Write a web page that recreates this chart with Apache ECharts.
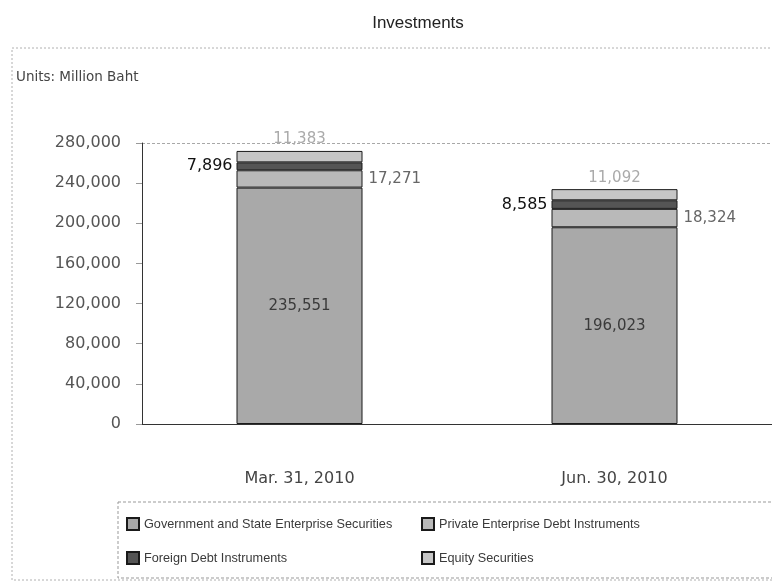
<!DOCTYPE html>
<html>
<head>
<meta charset="utf-8">
<script src="https://cdn.jsdelivr.net/npm/echarts@6/dist/echarts.min.js"></script>
<style>
  html, body { margin: 0; padding: 0; background: #fff; }
  #chart { width: 772px; height: 582px; }
</style>
</head>
<body>
<div id="chart"></div>
<script>
// Investment holdings, million Baht
const categories = ['Mar. 31, 2010', 'Jun. 30, 2010'];
const govSecurities = [235551, 196023];
const privateDebt = [17271, 18324];
const foreignDebt = [7896, 8585];
const equitySecurities = [11383, 11092];
const yTicks = [0, 40000, 80000, 120000, 160000, 200000, 240000, 280000];

const FONT = '"Liberation Sans", Arial, sans-serif';
const NUM_FONT = '"DejaVu Sans", Verdana, sans-serif';
const fmt = v => v.toLocaleString('en-US');

const chart = echarts.init(document.getElementById('chart'), null, { renderer: 'canvas' });

function seriesOf(name, data, color, label) {
  return {
    name: name,
    type: 'bar',
    stack: 'total',
    barWidth: 126,
    data: data,
    itemStyle: { color: color, borderColor: '#1a1a1a', borderWidth: 1 },
    label: Object.assign({
      show: true,
      fontFamily: NUM_FONT,
      fontSize: 15,
      formatter: p => fmt(p.value)
    }, label),
    emphasis: { disabled: true }
  };
}

const legendText = { fontFamily: FONT, fontSize: 12.7, color: '#3a3a3a' };

const option = {
  animation: false,
  backgroundColor: '#fff',
  textStyle: { fontFamily: FONT },
  title: {
    text: 'Investments',
    left: 413,
    textAlign: 'center',
    top: 10,
    textStyle: { fontFamily: FONT, fontSize: 17, fontWeight: 'normal', color: '#222' }
  },
  graphic: [
    {
      type: 'rect',
      shape: { x: 12, y: 48, width: 800, height: 532 },
      style: { fill: 'none', stroke: '#b0b0b0', lineWidth: 1, lineDash: [2, 2] },
      silent: true, z: -1
    },
    {
      type: 'rect',
      shape: { x: 118, y: 502, width: 700, height: 76 },
      style: { fill: 'none', stroke: '#999', lineWidth: 1, lineDash: [3, 2] },
      silent: true, z: -1
    },
    {
      type: 'text',
      left: 16, top: 70,
      style: { text: 'Units: Million Baht', font: '13.5px ' + NUM_FONT, fill: '#444' }
    }
  ],
  legend: [
    {
      data: ['Government and State Enterprise Securities', 'Foreign Debt Instruments'],
      orient: 'vertical',
      left: 121, top: 512,
      itemWidth: 12, itemHeight: 12, itemGap: 20,
      icon: 'rect',
      textStyle: legendText,
      selectedMode: false
    },
    {
      data: ['Private Enterprise Debt Instruments', 'Equity Securities'],
      orient: 'vertical',
      left: 416, top: 512,
      itemWidth: 12, itemHeight: 12, itemGap: 20,
      icon: 'rect',
      textStyle: legendText,
      selectedMode: false
    }
  ],
  grid: { left: 142, top: 143, width: 636, height: 281, containLabel: false },
  xAxis: {
    type: 'category',
    data: categories,
    axisLine: { lineStyle: { color: '#333', width: 1 } },
    axisTick: { show: false },
    axisLabel: { margin: 47, fontFamily: NUM_FONT, fontSize: 16, color: '#444' }
  },
  yAxis: {
    type: 'value',
    min: 0, max: 280000, interval: 40000,
    axisLine: { show: true, lineStyle: { color: '#333' } },
    axisTick: { show: true, length: 6, lineStyle: { color: '#999' } },
    axisLabel: {
      margin: 21, fontFamily: NUM_FONT, fontSize: 16, color: '#555',
      formatter: v => yTicks.includes(v) ? fmt(v) : ''
    },
    splitLine: {
      show: true,
      lineStyle: {
        color: ['transparent', 'transparent', 'transparent', 'transparent',
                'transparent', 'transparent', 'transparent', '#a8a8a8'],
        type: [3, 2]
      }
    }
  },
  series: [
    seriesOf('Government and State Enterprise Securities', govSecurities, '#a9a9a9',
      { position: 'inside', color: '#3a3a3a' }),
    seriesOf('Private Enterprise Debt Instruments', privateDebt, '#b9b9b9',
      { position: 'right', distance: 6, color: '#666' }),
    seriesOf('Foreign Debt Instruments', foreignDebt, '#555555',
      { position: 'left', distance: 4, color: '#111', fontSize: 16 }),
    seriesOf('Equity Securities', equitySecurities, '#c6c6c6',
      { position: 'top', distance: 4, color: '#aaa' })
  ]
};

chart.setOption(option);
</script>
</body>
</html>
